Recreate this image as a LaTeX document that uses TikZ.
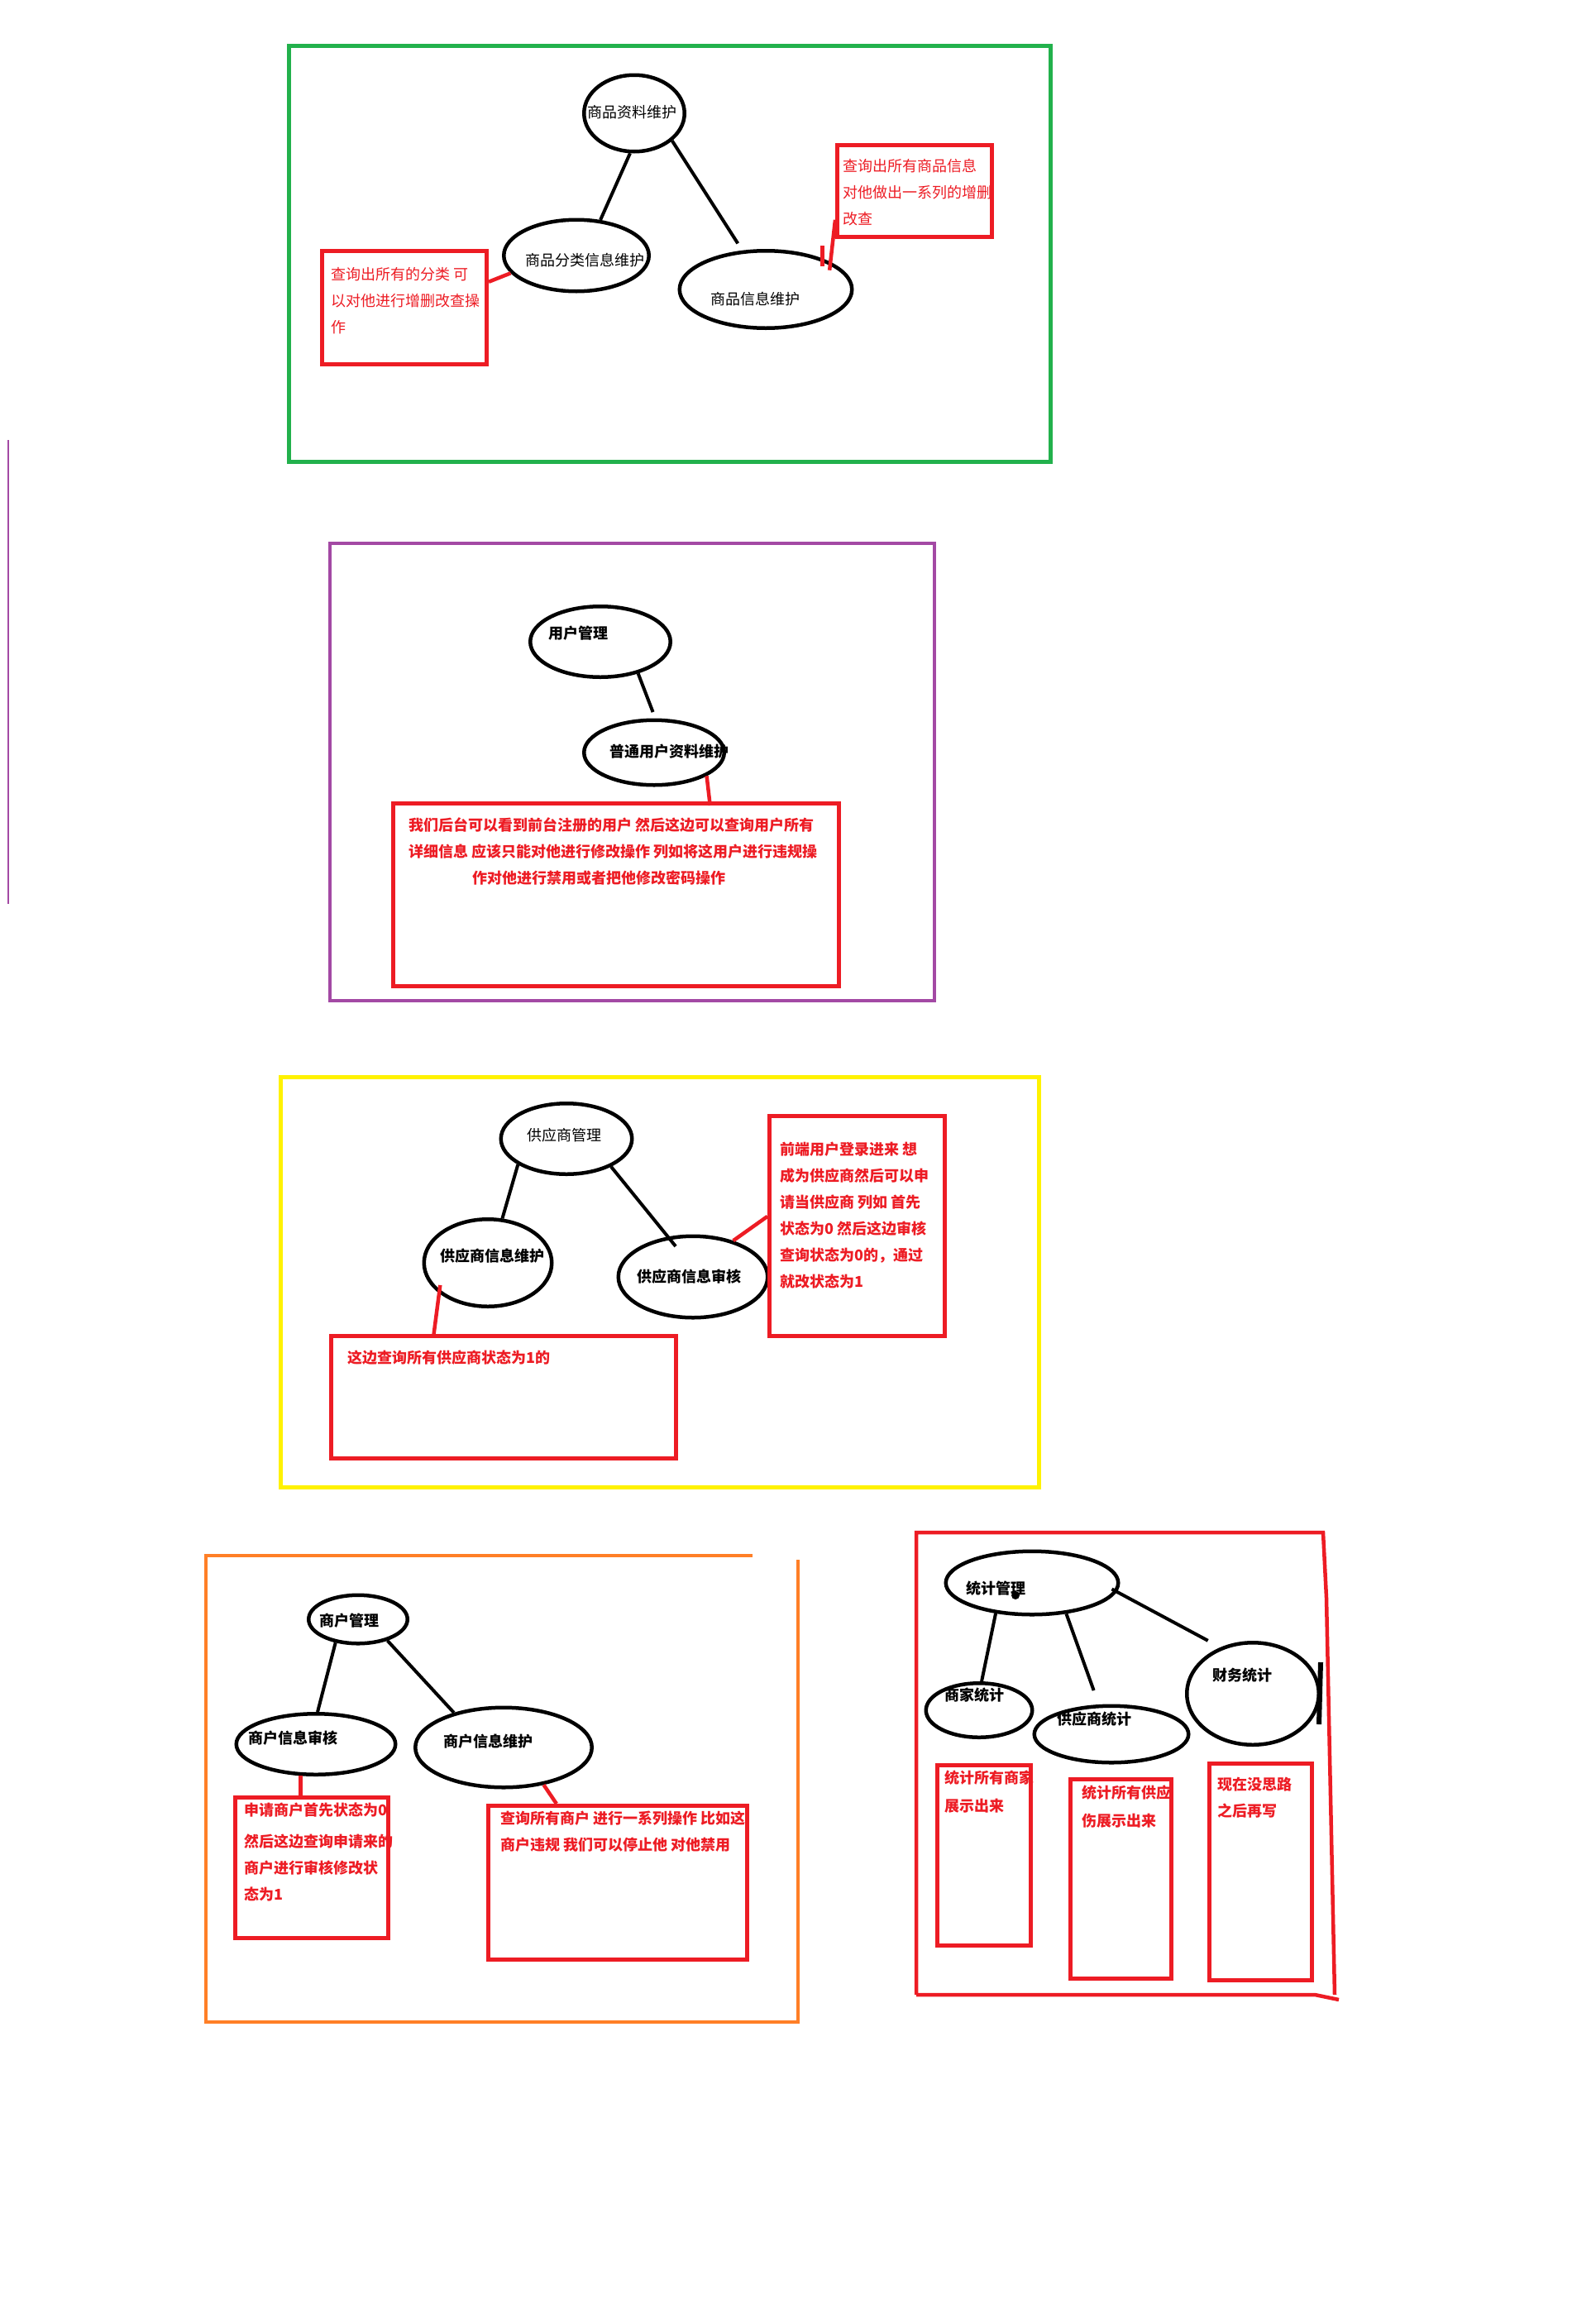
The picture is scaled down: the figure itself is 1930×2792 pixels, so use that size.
\documentclass[tikz,border=0pt]{standalone}
\usepackage{fontspec}
\newfontfamily\cjk{Noto Sans CJK SC}
\usetikzlibrary{shapes,calc}
\definecolor{pgreen}{RGB}{34,177,76}
\definecolor{ppurple}{RGB}{163,73,164}
\definecolor{pyellow}{RGB}{255,242,0}
\definecolor{porange}{RGB}{255,127,39}
\definecolor{pred}{RGB}{237,28,36}
\tikzset{
	ell/.style={draw,ellipse,line width=4.5pt,inner sep=0pt},
	conn/.style={line width=4pt},
	redline/.style={pred,line width=4.5pt},
	notebox/.style={draw=pred,line width=5pt,inner sep=0pt},
	txt/.style={font=\cjk\fontsize{18}{32}\selectfont},
	btxt/.style={font=\cjk\bfseries\fontsize{18}{32}\selectfont},
	rtxt/.style={txt,pred,align=left,anchor=north west,inner sep=0pt},
	brtxt/.style={btxt,pred,align=left,anchor=north west,inner sep=0pt}
}

\begin{document}
\begin{tikzpicture}[x=1pt,y=-1pt]
		\fill[white] (0,0) rectangle (1930,2792);
		\useasboundingbox (0,0) rectangle (1930,2792);
		\draw[pgreen,line width=5pt] (349.5,55.5) rectangle (1270.5,558.5);
		\draw[ppurple,line width=2.5pt] (10,532) -- (10,1093);
		\draw[ppurple,line width=4pt] (399,657) rectangle (1130,1210);
		\draw[pyellow,line width=5pt] (339.5,1302.5) rectangle (1256.5,1798.5);
		\draw[porange,line width=4pt] (910,1881) -- (249,1881) -- (249,2445) -- (965,2445) -- (965,1886);
		\draw[pred,line width=4.5pt] (1108,2412) -- (1108,1853) -- (1600,1853) -- (1604,1932) -- (1614,2412);
		\draw[pred,line width=4.5pt] (1108,2412) -- (1590,2412) -- (1619,2418);
		
		\node[ell,minimum width=121.5pt,minimum height=92.5pt,label={[txt,shift={(-3,-1)}]center:商品资料维护}] (spzl) at (767,137) {};
		\node[ell,minimum width=175.5pt,minimum height=86.5pt,label={[txt,shift={(10,6)}]center:商品分类信息维护}] (spfl) at (697,309) {};
		\node[ell,minimum width=208.5pt,minimum height=93.5pt,label={[txt,shift={(-13,12)}]center:商品信息维护}] (spxx) at (926,350) {};
		\node[ell,minimum width=169.5pt,minimum height=85.5pt,label={[btxt,shift={(-27,-10)}]center:用户管理}] (yhgl) at (726,776) {};
		\node[ell,minimum width=169.5pt,minimum height=78.5pt,label={[btxt,shift={(18,-1)}]center:普通用户资料维护}] (pt) at (791,910) {};
		\node[ell,minimum width=158.5pt,minimum height=85.5pt,label={[txt,shift={(-3,-4)}]center:供应商管理}] (gysgl) at (685,1377) {};
		\node[ell,minimum width=154.5pt,minimum height=105.5pt,label={[btxt,shift={(5,-8)}]center:供应商信息维护}] (gyswh) at (590,1527) {};
		\node[ell,minimum width=180.5pt,minimum height=98.5pt,label={[btxt,shift={(-5,0)}]center:供应商信息审核}] (gyssh) at (838,1544) {};
		\node[ell,minimum width=119.5pt,minimum height=58.5pt,label={[btxt,shift={(-11,2)}]center:商户管理}] (shgl) at (433,1958) {};
		\node[ell,minimum width=192.5pt,minimum height=73.5pt,label={[btxt,shift={(-28,-7)}]center:商户信息审核}] (shsh) at (382,2109) {};
		\node[ell,minimum width=213.5pt,minimum height=96.5pt,label={[btxt,shift={(-19,-7)}]center:商户信息维护}] (shwh) at (609,2113) {};
		\node[ell,minimum width=208.5pt,minimum height=76.5pt,label={[btxt,shift={(-44,7)}]center:统计管理}] (tjgl) at (1248,1914) {};
		\node[ell,minimum width=128.5pt,minimum height=65.5pt,label={[btxt,shift={(-6,-18)}]center:商家统计}] (sjtj) at (1184,2068) {};
		\node[ell,minimum width=186.5pt,minimum height=68.5pt,label={[btxt,shift={(-21,-18)}]center:供应商统计}] (gystj) at (1344,2097) {};
		\node[ell,minimum width=159.5pt,minimum height=123.5pt,label={[btxt,shift={(-13,-22)}]center:财务统计}] (cwtj) at (1515,2048) {};
		
		\draw[conn] (spzl.264) -- (spfl.56);
		\draw[conn,shorten >=10pt] (spzl.324) -- (spxx.121);
		\draw[conn,shorten >=8pt] (yhgl.320) -- (pt.88);
		\draw[conn] (gysgl.208) -- (gyswh.72);
		\draw[conn,shorten >=-15pt] (gysgl.328) -- (gyssh.122);
		\draw[conn] (shgl.226) -- (shsh.87);
		\draw[conn] (shgl.324) -- (shwh.145);
		\draw[conn] (tjgl.220) -- (sjtj.85);
		\draw[conn,shorten >=18pt] (tjgl.318) -- (gystj.113);
		\draw[conn,shorten <=-7pt,shorten >=17pt] (tjgl.354) -- (cwtj.125);
		\fill (1228,1929) circle (5pt);
		\draw[line width=6pt] ($(cwtj.east)+(0,-38)$) -- ($(cwtj.east)+(-2,37)$);
		
		\node[notebox,minimum width=199pt,minimum height=137pt] (n1) at (489,372) {};
		\node[rtxt] (n1t) at (400,323) {查询出所有的分类 可\\以对他进行增删改查操\\作};
		\draw[redline] ($(n1.north east)!0.28!(n1.south east)$) -- (spfl.195);
		\node[notebox,minimum width=187pt,minimum height=111pt] (n2) at (1106,231) {};
		\node[rtxt] (n2t) at (1019,192) {查询出所有商品信息\\对他做出一系列的增删\\改查};
		\draw[redline,shorten >=-10pt] ($(n2.north west)!0.8!(n2.south west)$) -- (spxx.23);
		\draw[redline] ($(spxx.23)+(-10,5)$) -- ++(0,-25);
		
		\node[notebox,minimum width=539pt,minimum height=221pt] (n3) at (745,1082) {};
		\node[brtxt] (n3t) at (494,988) {我们后台可以看到前台注册的用户 然后这边可以查询用户所有\\详细信息 应该只能对他进行修改操作 列如将这用户进行违规操\\\hspace*{77pt}作对他进行禁用或者把他修改密码操作};
		\draw[redline,shorten >=-5pt] (pt.336) -- ($(n3.north west)!0.708!(n3.north east)$);
		
		\node[notebox,minimum width=212pt,minimum height=266pt] (n4) at (1036.5,1482.5) {};
		\node[brtxt] (n4t) at (943,1381) {前端用户登录进来 想\\成为供应商然后可以申\\请当供应商 列如 首先\\状态为0 然后这边审核\\查询状态为0的，通过\\就改状态为1};
		\draw[redline] (gyssh.42) -- ($(n4.north west)!0.457!(n4.south west)$);
		\node[notebox,minimum width=417pt,minimum height=148pt] (n5) at (609,1689.5) {};
		\node[brtxt] (n5t) at (420,1633) {这边查询所有供应商状态为1的};
		\draw[redline,shorten <=-10pt] (gyswh.212) -- ($(n5.north west)!0.3!(n5.north east)$);
		
		\node[notebox,minimum width=185pt,minimum height=170pt] (n6) at (377,2258.5) {};
		\node[brtxt] (n6t) at (295,2180) {申请商户首先状态为0\\[6pt]然后这边查询申请来的\\商户进行审核修改状\\态为1};
		\draw[redline] (shsh.244) -- (shsh.244 |- n6.north);
		\node[notebox,minimum width=313pt,minimum height=186pt] (n7) at (747,2276.5) {};
		\node[brtxt] (n7t) at (605,2190) {查询所有商户 进行一系列操作 比如这\\商户违规 我们可以停止他 对他禁用};
		\draw[redline] (shwh.317) -- ($(n7.north west)!0.267!(n7.north east)$);
		
		\node[notebox,minimum width=113pt,minimum height=218pt] (n8) at (1190,2243.5) {};
		\node[brtxt] (n8t) at (1142,2141) {统计所有商家\\[2pt]展示出来};
		\node[notebox,minimum width=122pt,minimum height=241pt] (n9) at (1355.5,2272) {};
		\node[brtxt] (n9t) at (1308,2159) {统计所有供应\\[2pt]伤展示出来};
		\node[notebox,minimum width=124pt,minimum height=262pt] (n10) at (1524.5,2263.5) {};
		\node[brtxt] (n10t) at (1472,2149) {现在没思路\\之后再写};
\end{tikzpicture}
\end{document}
